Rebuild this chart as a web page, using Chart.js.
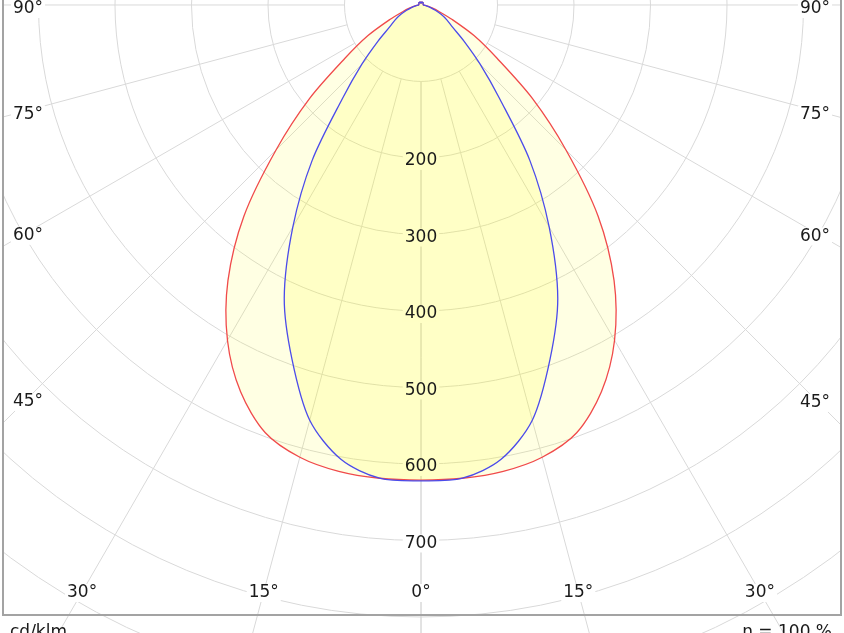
<!DOCTYPE html>
<html>
<head>
<meta charset="utf-8">
<script src="https://cdn.jsdelivr.net/npm/chart.js@4.4.1/dist/chart.umd.min.js"></script>
<style>
  html, body { margin: 0; padding: 0; background: #fff; }
  #wrap { width: 844px; height: 633px; }
</style>
</head>
<body>
<div id="wrap"><canvas id="polar" width="844" height="633"></canvas></div>
<script>
// gamma angles (deg from nadir) and luminous intensity in cd/klm
const gammas = [0, 5, 10, 15, 20, 25, 30, 35, 40, 45, 50, 55, 60, 65, 70, 75, 80, 85, 90,
                105, 120, 135, 150, 165, 180];
// C0 - C180 plane (red)
const planeC0 = [621, 621, 619, 612, 595, 558, 506, 440, 360, 268, 190, 121, 80, 45, 25, 15, 9, 5, 3,
                 3, 3, 4, 4, 4, 2];
// C90 - C270 plane (blue)
const planeC90 = [622, 621, 603, 562, 493, 423, 335, 248, 160, 109, 73, 50, 39, 29, 20, 13, 8, 5, 3,
                  3, 3, 4, 4, 4, 2];

const ringValues = [100, 200, 300, 400, 500, 600, 700, 800, 900, 1000];
const ringLabels = [200, 300, 400, 500, 600, 700];
const angleTicks = [0, 15, 30, 45, 60, 75, 90];

const FONT = '17px "DejaVu Sans", Verdana, sans-serif';

// symmetric curve: left half from 180 down to 0, right half from 0 up to 180
function buildCurve(vals) {
  const pts = [];
  for (let i = gammas.length - 1; i >= 0; i--) {
    const t = gammas[i] * Math.PI / 180;
    pts.push({x: -vals[i] * Math.sin(t), y: -vals[i] * Math.cos(t)});
  }
  for (let i = 1; i < gammas.length; i++) {
    const t = gammas[i] * Math.PI / 180;
    pts.push({x: vals[i] * Math.sin(t), y: -vals[i] * Math.cos(t)});
  }
  return pts;
}

// positions of all text labels, computed from the scales
function labelSpots(chart) {
  const {chartArea: a, scales: {x, y}} = chart;
  const cx = x.getPixelForValue(0), cy = y.getPixelForValue(0);
  const spots = [];
  ringLabels.forEach(v => spots.push({text: String(v), px: cx, py: y.getPixelForValue(-v) + 3}));
  const inL = a.left + 25, inR = a.right - 26, inB = a.bottom - 23;
  angleTicks.forEach(g => {
    const t = g * Math.PI / 180;
    const sn = Math.sin(t), cs = Math.cos(t);
    (g === 0 ? [1] : [-1, 1]).forEach(s => {
      const side = s < 0 ? cx - inL : inR - cx;
      const tSide = sn > 1e-6 ? side / sn : Infinity;
      const tBot = cs > 1e-6 ? (inB - cy) / cs : Infinity;
      const d = Math.min(tSide, tBot);
      const px = cx + s * d * sn, py = cy + d * cs;
      spots.push({text: g + '°', px, py: tSide < tBot ? py + 4 : py + 1});
    });
  });
  return spots;
}

const polarGrid = {
  id: 'polarGrid',
  beforeDraw(chart) {
    const {ctx, chartArea: a, scales: {x, y}} = chart;
    const cx = x.getPixelForValue(0), cy = y.getPixelForValue(0);
    const rad = v => x.getPixelForValue(v) - cx;
    ctx.save();
    ctx.beginPath();
    ctx.rect(a.left, 0, a.right - a.left, chart.height);
    ctx.clip();
    ctx.strokeStyle = '#d9d9d9';
    ctx.lineWidth = 1;
    ringValues.forEach(v => {
      ctx.beginPath();
      ctx.arc(cx, cy, rad(v), 0, Math.PI * 2);
      ctx.stroke();
    });
    const r0 = rad(ringValues[0]);
    angleTicks.forEach(g => {
      [-1, 1].forEach(s => {
        const t = g * Math.PI / 180;
        ctx.beginPath();
        ctx.moveTo(cx + s * r0 * Math.sin(t), cy + r0 * Math.cos(t));
        ctx.lineTo(cx + s * 1600 * Math.sin(t), cy + 1600 * Math.cos(t));
        ctx.stroke();
      });
    });
    // white boxes behind the labels, so grid lines stop at the text
    ctx.font = FONT;
    ctx.fillStyle = '#fff';
    labelSpots(chart).forEach(sp => {
      const w = ctx.measureText(sp.text).width;
      ctx.fillRect(sp.px - w / 2 - 2, sp.py - 9, w + 4, 18);
    });
    ctx.restore();
  },
  afterDatasetsDraw(chart) {
    const {ctx} = chart;
    ctx.save();
    ctx.font = FONT;
    ctx.fillStyle = '#1a1a1a';
    ctx.textAlign = 'center';
    ctx.textBaseline = 'middle';
    labelSpots(chart).forEach(sp => ctx.fillText(sp.text, sp.px, sp.py));
    ctx.restore();
  },
  afterDraw(chart) {
    const {ctx, chartArea: a} = chart;
    ctx.save();
    ctx.strokeStyle = '#a3a3a3';
    ctx.lineWidth = 2;
    ctx.beginPath();
    ctx.moveTo(a.left, 0);
    ctx.lineTo(a.left, a.bottom);
    ctx.lineTo(a.right, a.bottom);
    ctx.lineTo(a.right, 0);
    ctx.stroke();
    ctx.font = FONT;
    ctx.fillStyle = '#1a1a1a';
    ctx.textBaseline = 'alphabetic';
    ctx.textAlign = 'left';
    ctx.fillText('cd/klm', 10, 637);
    ctx.textAlign = 'right';
    ctx.fillText('η = 100 %', 832, 637);
    ctx.restore();
  }
};

new Chart(document.getElementById('polar'), {
  type: 'scatter',
  data: {
    datasets: [
      {
        label: 'C90 - C270',
        data: buildCurve(planeC90),
        showLine: true,
        borderColor: '#4b4bea',
        borderWidth: 1.3,
        backgroundColor: 'rgba(255, 255, 0, 0.13)',
        fill: 'shape',
        pointRadius: 0,
        tension: 0.3
      },
      {
        label: 'C0 - C180',
        data: buildCurve(planeC0),
        showLine: true,
        borderColor: '#f04a4a',
        borderWidth: 1.3,
        backgroundColor: 'rgba(255, 255, 0, 0.11)',
        fill: 'shape',
        pointRadius: 0,
        tension: 0.3
      }
    ]
  },
  options: {
    responsive: false,
    animation: false,
    layout: { padding: { left: 3, right: 3, top: 0, bottom: 18 } },
    scales: {
      x: { type: 'linear', display: false, min: -546.4, max: 549.0 },
      y: { type: 'linear', display: false, min: -797.4, max: 6.5 }
    },
    plugins: {
      legend: { display: false },
      tooltip: { enabled: false },
      filler: { drawTime: 'beforeDatasetsDraw' }
    }
  },
  plugins: [polarGrid]
});
</script>
</body>
</html>
